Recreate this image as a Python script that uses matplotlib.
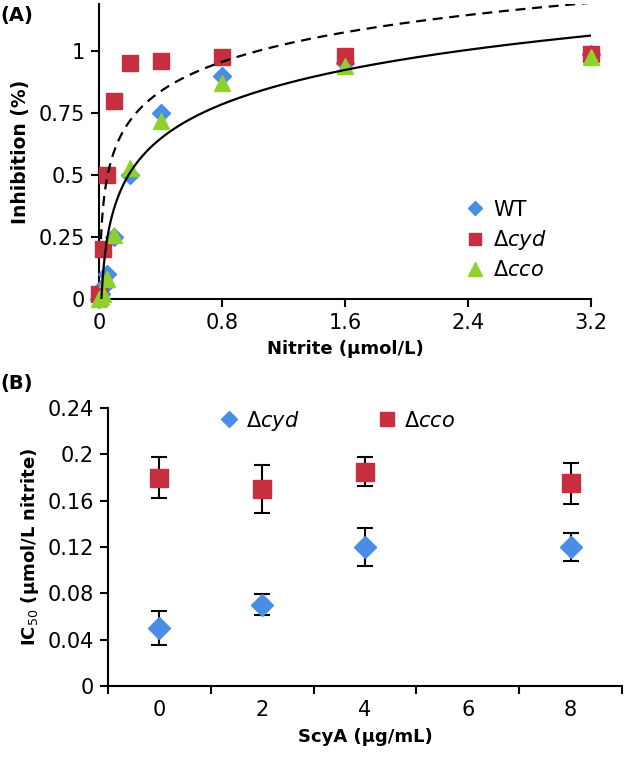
import numpy as np
import matplotlib
matplotlib.use("Agg")
import matplotlib.pyplot as plt
from matplotlib.lines import Line2D

# ---------------- Data ----------------
# Panel A: inhibition vs nitrite
wt_x = [0, 0.0125, 0.025, 0.05, 0.1, 0.2, 0.4, 0.8, 1.6, 3.2]
wt_y = [0.0, 0.02, 0.05, 0.10, 0.25, 0.50, 0.75, 0.90, 0.95, 0.99]
cyd_x = [0, 0.025, 0.05, 0.1, 0.2, 0.4, 0.8, 1.6, 3.2]
cyd_y = [0.02, 0.20, 0.50, 0.80, 0.95, 0.96, 0.975, 0.98, 0.99]
cco_x = [0, 0.0125, 0.025, 0.05, 0.1, 0.2, 0.4, 0.8, 1.6, 3.2]
cco_y = [0.0, 0.01, 0.02, 0.08, 0.26, 0.53, 0.72, 0.87, 0.94, 0.975]
# logarithmic trend lines y = a*ln(x) + b
solid_a, solid_b, solid_x0 = 0.20, 0.83, 0.016
dash_a, dash_b, dash_x0 = 0.172, 0.995, 0.0125
a_xticks = [0, 0.8, 1.6, 2.4, 3.2]
a_yticks = [0, 0.25, 0.5, 0.75, 1]
a_yticklabels = ["0", "0.25", "0.5", "0.75", "1"]

# Panel B: IC50 vs ScyA
scya_labels = ["0", "2", "4", "6", "8"]
b_cyd_pos = [0, 1, 2, 4]
b_cyd_y = [0.05, 0.07, 0.12, 0.12]
b_cyd_err = [0.015, 0.009, 0.016, 0.0125]
b_cco_pos = [0, 1, 2, 4]
b_cco_y = [0.18, 0.17, 0.185, 0.175]
b_cco_err = [0.018, 0.021, 0.0125, 0.0175]
b_yticks = [0, 0.04, 0.08, 0.12, 0.16, 0.2, 0.24]
b_yticklabels = ["0", "0.04", "0.08", "0.12", "0.16", "0.2", "0.24"]

BLUE = "#4A8DE6"
RED = "#C62F3E"
GREEN = "#8FD12C"

plt.rcParams['font.family'] = ['DejaVu Sans']
plt.rcParams['mathtext.fontset'] = 'dejavusans'

W, H = 625, 759
fig = plt.figure(figsize=(W / 100, H / 100), dpi=100)

# ---------------- Panel A ----------------
axA = fig.add_axes([99 / W, 1 - 299 / H, (591 - 99) / W, (299 - 4) / H])
axA.plot(wt_x, wt_y, linestyle='none', marker='D', ms=9, color=BLUE,
         mec=BLUE, clip_on=False, label='WT', zorder=3)
axA.plot(cyd_x, cyd_y, linestyle='none', marker='s', ms=11.5, color=RED,
         mec=RED, clip_on=False, label=r'$\Delta\mathit{cyd}$', zorder=3)
axA.plot(cco_x, cco_y, linestyle='none', marker='^', ms=12, color=GREEN,
         mec=GREEN, clip_on=False, label=r'$\Delta\mathit{cco}$', zorder=4)
xs = np.linspace(solid_x0, 3.2, 400)
axA.plot(xs, solid_a * np.log(xs) + solid_b, color='black', lw=1.6, zorder=5)
xd = np.linspace(dash_x0, 3.2, 400)
axA.plot(xd, dash_a * np.log(xd) + dash_b, color='black', lw=1.6,
         linestyle=(0, (4.5, 3)), zorder=5)
axA.set_xlim(0, 3.2)
axA.set_ylim(0, 1.19)
axA.set_xticks(a_xticks)
axA.set_xticklabels([f"{v:g}" for v in a_xticks])
axA.set_yticks(a_yticks)
axA.set_yticklabels(a_yticklabels)
for s in ['top', 'right']:
    axA.spines[s].set_visible(False)
for s in ['left', 'bottom']:
    axA.spines[s].set_linewidth(1.5)
axA.tick_params(axis='both', direction='out', length=6, width=1.5,
                labelsize=15, pad=4)
axA.set_xlabel('Nitrite (µmol/L)', fontsize=13, fontweight='bold', labelpad=5)
axA.set_ylabel('Inhibition (%)', fontsize=13.5, fontweight='bold', labelpad=6)
axA.legend(loc='center left', bbox_to_anchor=(0.70, 0.2), frameon=False,
           fontsize=15, handletextpad=0.3, labelspacing=0.4,
           handlelength=1.2, markerscale=0.8)

# ---------------- Panel B ----------------
axB = fig.add_axes([108 / W, 1 - 686 / H, (622 - 108) / W, (686 - 408) / H])
axB.errorbar(b_cyd_pos, b_cyd_y, yerr=b_cyd_err, fmt='D', ms=11.5,
             color=BLUE, mec=BLUE, ecolor='black', elinewidth=1.5,
             capsize=6, capthick=1.5, zorder=3)
axB.errorbar(b_cco_pos, b_cco_y, yerr=b_cco_err, fmt='s', ms=13.5,
             color=RED, mec=RED, ecolor='black', elinewidth=1.5,
             capsize=6, capthick=1.5, zorder=3)
axB.set_xlim(-0.5, len(scya_labels) - 0.5)
axB.set_ylim(0, 0.24)
axB.set_yticks(b_yticks)
axB.set_yticklabels(b_yticklabels)
axB.set_xticks(np.arange(-0.5, len(scya_labels), 1.0))
axB.set_xticklabels([])
axB.set_xticks(np.arange(len(scya_labels)), minor=True)
axB.set_xticklabels(scya_labels, minor=True)
axB.tick_params(axis='x', which='major', direction='out', length=6, width=1.5)
axB.tick_params(axis='x', which='minor', length=0, labelsize=15, pad=10)
axB.tick_params(axis='y', direction='out', length=6, width=1.5, labelsize=15, pad=4)
for s in ['top', 'right']:
    axB.spines[s].set_visible(False)
for s in ['left', 'bottom']:
    axB.spines[s].set_linewidth(1.5)
axB.set_xlabel('ScyA (µg/mL)', fontsize=13, fontweight='bold', labelpad=6)
axB.set_ylabel(r'IC$_{50}$ (µmol/L nitrite)', fontsize=13, fontweight='bold',
               labelpad=5)
handles = [Line2D([], [], linestyle='none', marker='D', ms=8, color=BLUE),
           Line2D([], [], linestyle='none', marker='s', ms=10, color=RED)]
axB.legend(handles, [r'$\Delta\mathit{cyd}$', r'$\Delta\mathit{cco}$'],
           loc='center', bbox_to_anchor=(0.445, 0.955), ncol=2, frameon=False,
           fontsize=15, handletextpad=0.3, columnspacing=3.7,
           handlelength=1.0)

fig.text(0.0, 1 - 16 / H, '(A)', fontsize=14, fontweight='bold', va='center')
fig.text(0.0, 1 - 384 / H, '(B)', fontsize=14, fontweight='bold', va='center')

fig.savefig('out.png', dpi=100)
